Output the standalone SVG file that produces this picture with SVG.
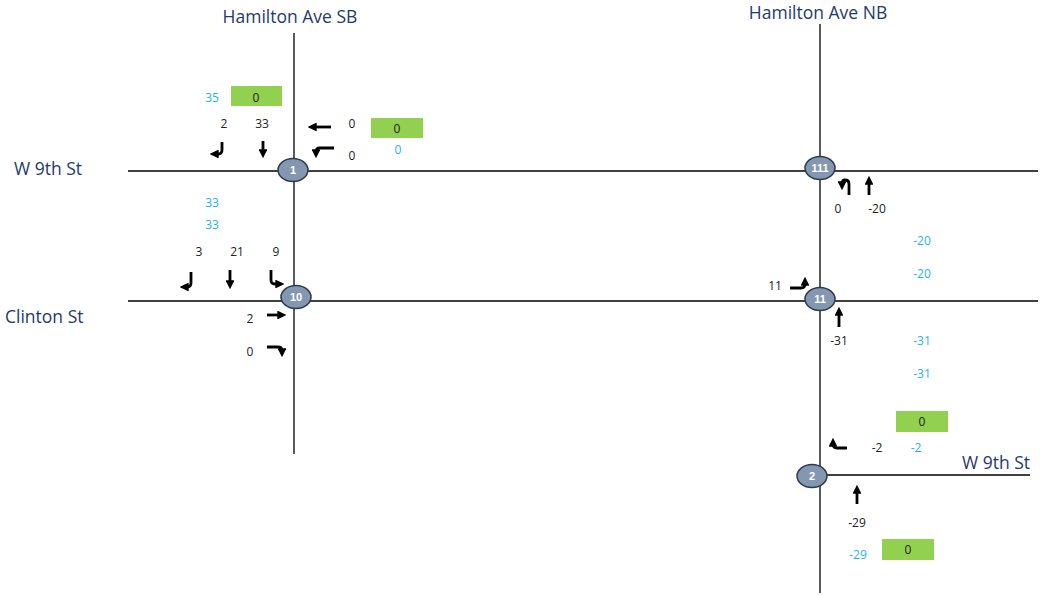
<svg xmlns="http://www.w3.org/2000/svg" width="1048" height="595" viewBox="0 0 1048 595">
<style>
.road{stroke:#000;stroke-width:1.3;fill:none}
.st{font-family:"Open Sans","Liberation Sans",sans-serif;font-size:17.5px;fill:#1F3A6E}
.n{font-family:"Open Sans","Liberation Sans",sans-serif;font-size:12px;fill:#222;text-anchor:middle}
.c{fill:#1EB2F0}
.box{fill:#92D050}
.node ellipse{fill:#8497B0;stroke:#2E3A4E;stroke-width:1.5}
.node text{font-family:"Liberation Sans",sans-serif;font-size:11px;font-weight:bold;fill:#fff;text-anchor:middle}
.ar{stroke:#000;stroke-width:2.8;fill:none;stroke-linejoin:round;marker-end:url(#ah)}
</style>
<defs>
<marker id="ah" viewBox="0 0 10 10" refX="3" refY="5" markerWidth="3.2" markerHeight="3.2" orient="auto" markerUnits="strokeWidth">
<path d="M0,0 L10,5 L0,10 z" fill="#000"/>
</marker>
</defs>
<rect width="1048" height="595" fill="#fff"/>
<g id="roads">
<line class="road" x1="294" y1="33" x2="294" y2="454"/>
<line class="road" x1="820" y1="24" x2="820" y2="593"/>
<line class="road" x1="128" y1="171" x2="1038" y2="171"/>
<line class="road" x1="128" y1="301" x2="1038" y2="301"/>
<line class="road" x1="812" y1="475" x2="1030" y2="475"/>
</g>
<g id="street-labels">
<text class="st" x="290" y="23" text-anchor="middle">Hamilton Ave SB</text>
<text class="st" x="818" y="19" text-anchor="middle">Hamilton Ave NB</text>
<text class="st" x="14" y="175">W 9th St</text>
<text class="st" x="5" y="323">Clinton St</text>
<text class="st" x="962" y="469">W 9th St</text>
</g>
<g id="boxes">
<rect class="box" x="231" y="86" width="51" height="20"/>
<rect class="box" x="371" y="118" width="52" height="20"/>
<rect class="box" x="896" y="411" width="52" height="21"/>
<rect class="box" x="882" y="539" width="52" height="21"/>
</g>
<g id="connectors">
<path class="ar" d="M222,142 V150 Q222,154 218,154 H216"/>
<path class="ar" d="M263,141 V152"/>
<path class="ar" d="M331,127 H314"/>
<path class="ar" d="M334,148 H320 Q316,148 316,152"/>
<path class="ar" d="M191,272 V283 Q191,287 187,287 H186"/>
<path class="ar" d="M230,270 V283"/>
<path class="ar" d="M271,270 V280 Q271,284 275,284 H278"/>
<path class="ar" d="M267,315 H280"/>
<path class="ar" d="M267,347 H278 Q282,347 282,351"/>
<path class="ar" d="M849,195 V184 Q849,180 845,180 Q842,180 842,184"/>
<path class="ar" d="M869,195 V182"/>
<path class="ar" d="M790,288 H801 Q805,288 805,284 V283"/>
<path class="ar" d="M839,327 V313"/>
<path class="ar" d="M847,448 H837 Q833,448 833,444"/>
<path class="ar" d="M857,504 V491"/>
</g>
<g id="values">
<text class="n c" x="212" y="102">35</text>
<text class="n" x="256" y="102">0</text>
<text class="n" x="224" y="128">2</text>
<text class="n" x="262" y="128">33</text>
<text class="n" x="352" y="128">0</text>
<text class="n" x="397" y="133">0</text>
<text class="n" x="352" y="160">0</text>
<text class="n c" x="398" y="154">0</text>
<text class="n c" x="212" y="207">33</text>
<text class="n c" x="212" y="229">33</text>
<text class="n" x="199" y="256">3</text>
<text class="n" x="237" y="256">21</text>
<text class="n" x="276" y="256">9</text>
<text class="n" x="250" y="323">2</text>
<text class="n" x="250" y="356">0</text>
<text class="n" x="838" y="213">0</text>
<text class="n" x="877" y="213">-20</text>
<text class="n c" x="922" y="245">-20</text>
<text class="n c" x="922" y="278">-20</text>
<text class="n" x="775" y="290">11</text>
<text class="n" x="839" y="345">-31</text>
<text class="n c" x="922" y="345">-31</text>
<text class="n c" x="922" y="378">-31</text>
<text class="n" x="922" y="426">0</text>
<text class="n" x="877" y="452">-2</text>
<text class="n c" x="916" y="452">-2</text>
<text class="n" x="857" y="527">-29</text>
<text class="n c" x="858" y="559">-29</text>
<text class="n" x="908" y="554">0</text>
</g>
<g id="node-1" class="node"><ellipse cx="293" cy="170" rx="15" ry="11.5"/><text x="293" y="174">1</text></g>
<g id="node-10" class="node"><ellipse cx="296" cy="297" rx="15" ry="11.5"/><text x="296" y="301">10</text></g>
<g id="node-111" class="node"><ellipse cx="820" cy="168" rx="15" ry="11.5"/><text x="820" y="172">111</text></g>
<g id="node-11" class="node"><ellipse cx="820" cy="299" rx="15" ry="11.5"/><text x="820" y="303">11</text></g>
<g id="node-2" class="node"><ellipse cx="812" cy="476" rx="15" ry="11.5"/><text x="812" y="480">2</text></g>
</svg>
